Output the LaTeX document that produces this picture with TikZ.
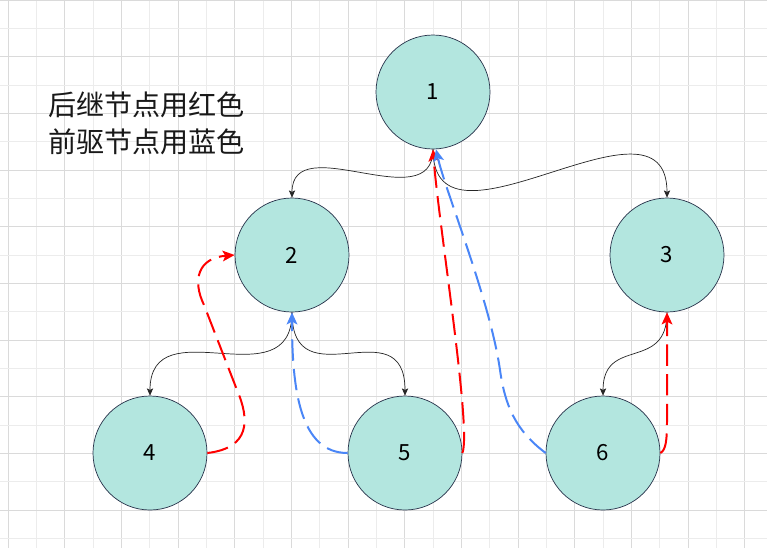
\documentclass[tikz,border=0pt]{standalone}
\usepackage{fontspec}
\usepackage{tikz}
\usetikzlibrary{arrows.meta}
\newfontfamily\cjk{Noto Sans CJK SC}
\definecolor{nodefill}{HTML}{B3E6DF}
\definecolor{nodeline}{HTML}{27324A}
\definecolor{redsucc}{HTML}{FF0000}
\definecolor{bluepred}{HTML}{4A86F7}
\definecolor{gridmaj}{HTML}{DADADA}
\definecolor{gridmin}{HTML}{ECECEC}

\begin{document}
\begin{tikzpicture}[x=0.03cm, y=-0.03cm,
      nd/.style={circle, draw=nodeline, fill=nodefill, line width=0.6pt,
      minimum size=3.42cm, inner sep=0pt, font=\cjk\fontsize{19}{19}\selectfont},
      tree/.style={-{Stealth[length=2.2mm, width=1.9mm, inset=0.5mm]},
      line width=0.6pt, draw=black!85},
      sucl/.style={-{Stealth[length=3.6mm, width=3.2mm, inset=0.8mm]},
      line width=1.7pt, redsucc, dash pattern=on 0.64cm off 0.25cm},
      prel/.style={sucl, bluepred},
    ]
    \useasboundingbox (0,0) rectangle (767,548);
    \fill[white] (0,0) rectangle (767,548);

    % Grid
    \foreach \k in {0,2,...,26}
      \draw[gridmaj, line width=0.8pt] ({8+28.333*\k},0) -- ({8+28.333*\k},548);
    \foreach \k in {1,3,...,25}
      \draw[gridmin, line width=0.8pt] ({8+28.333*\k},0) -- ({8+28.333*\k},548);
    \foreach \k in {0,2,...,18}
      \draw[gridmaj, line width=0.8pt] (0,{28.333*\k}) -- (767,{28.333*\k});
    \foreach \k in {1,3,...,19}
      \draw[gridmin, line width=0.8pt] (0,{28.333*\k}) -- (767,{28.333*\k});

    \node[nd] (1) at (433, 92) {1};
    \node[nd] (2) at (292, 255) {2};
    \node[nd] (3) at (667, 255) {3};
    \node[nd] (4) at (150, 453) {4};
    \node[nd] (5) at (405, 453) {5};
    \node[nd] (6) at (603, 453) {6};

    \draw[tree] (1.south) .. controls +(0,70) and +(0,-70) .. (2.north);
    \draw[tree] (1.south) .. controls +(0,120) and +(0,-120) .. (3.north);
    \draw[tree] (2.south) .. controls +(0,90) and +(0,-90) .. (4.north);
    \draw[tree] (2.south) .. controls +(0,90) and +(0,-90) .. (5.north);
    \draw[tree] (3.south) .. controls +(0,60) and +(0,-60) .. (6.north);

    % successors
    \draw[sucl] (4.east) .. controls (250,448) and (250,420) .. (237,390)
      -- (204,305) .. controls (192,280) and (198,258) .. (2.west);
    \draw[sucl] (5.east) .. controls (472,430) and (438,220) .. (1.south);
    \draw[sucl] (6.east) .. controls (666,450) and (667,440) .. (667,420)
      -- (3.south);

    % predecessors
    \draw[prel] (5.west) .. controls (300,453) and (292,390) .. (2.south);
    \draw[prel] (6.west) .. controls (515,430) and (505,405) .. (500,370)
      .. controls (490,300) and (445,190) .. (1.-87);

    % Legend
    \node[font=\cjk\fontsize{24}{31.5}\selectfont, align=left, anchor=west,
      inner sep=0pt, text=black!90] (legend) at (48,123)
      {后继节点用红色\\前驱节点用蓝色};
  \end{tikzpicture}
\end{document}
